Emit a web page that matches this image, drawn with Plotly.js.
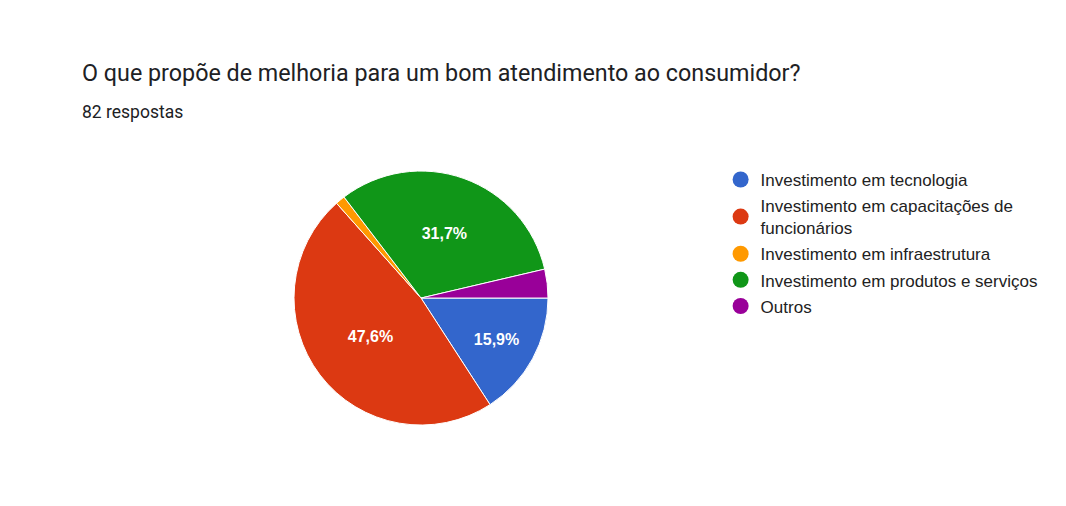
<!DOCTYPE html>
<html>
<head>
<meta charset="utf-8">
<script src="https://cdn.plot.ly/plotly-3.0.1.min.js"></script>
<style>html,body{margin:0;padding:0;background:#fff;}#chart{width:1066px;height:506px;}</style>
</head>
<body>
<div id="chart"></div>
<script>
const labels = ["Investimento em tecnologia", "Investimento em capacitações de funcionários", "Investimento em infraestrutura", "Investimento em produtos e serviços", "Outros"];
const legendLabels = ["Investimento em tecnologia", "Investimento em capacitações de<br>funcionários", "Investimento em infraestrutura", "Investimento em produtos e serviços", "Outros"];
const counts = [13, 39, 1, 26, 3];
const colors = ["#3366cc", "#dc3912", "#ff9900", "#109618", "#990099"];
const sliceText = ["15,9%", "47,6%", "", "31,7%", ""];
const title = "O que propõe de melhoria para um bom atendimento ao consumidor?";
const subtitle = "82 respostas";

const traces = [{
  type: "pie",
  labels: labels,
  values: counts,
  text: sliceText,
  texttemplate: "%{text}",
  textinfo: "text",
  textposition: "inside",
  insidetextorientation: "horizontal",
  sort: false,
  direction: "clockwise",
  rotation: 90,
  marker: {colors: colors, line: {color: "#ffffff", width: 1}},
  textfont: {family: "Liberation Sans, Arial, sans-serif", size: 16, color: "#ffffff", weight: "bold"},
  showlegend: false,
  hoverinfo: "label+percent",
  domain: {x: [0.2758, 0.5141], y: [0.160, 0.662]}
}];
legendLabels.forEach((l, i) => {
  traces.push({
    type: "scatter", mode: "markers", x: [null], y: [null],
    name: l, legendgroup: "g" + i,
    marker: {symbol: "circle", size: 17, color: colors[i]},
    showlegend: true, hoverinfo: "skip"
  });
});

const layout = {
  width: 1066, height: 506,
  margin: {l: 0, r: 0, t: 0, b: 0},
  paper_bgcolor: "#ffffff", plot_bgcolor: "#ffffff",
  separators: ",.",
  xaxis: {visible: false}, yaxis: {visible: false},
  showlegend: true,
  legend: {
    x: 0.676, y: 0.68, xanchor: "left", yanchor: "top",
    font: {family: "Liberation Sans, Arial, sans-serif", size: 17, color: "#222222"},
    traceorder: "grouped", tracegroupgap: 1,
    itemclick: false, itemdoubleclick: false, bgcolor: "rgba(0,0,0,0)"
  },
  annotations: [
    {text: title, xref: "paper", yref: "paper", x: 80/1066, y: 1 - 73/506, xanchor: "left", yanchor: "middle", showarrow: false,
     font: {family: "Roboto, Liberation Sans, sans-serif", size: 23.3, color: "#202124"}},
    {text: subtitle, xref: "paper", yref: "paper", x: 80/1066, y: 1 - 112/506, xanchor: "left", yanchor: "middle", showarrow: false,
     font: {family: "Roboto, Liberation Sans, sans-serif", size: 17.5, color: "#202124"}}
  ]
};
Plotly.newPlot("chart", traces, layout, {displayModeBar: false, staticPlot: true});
</script>
</body>
</html>
